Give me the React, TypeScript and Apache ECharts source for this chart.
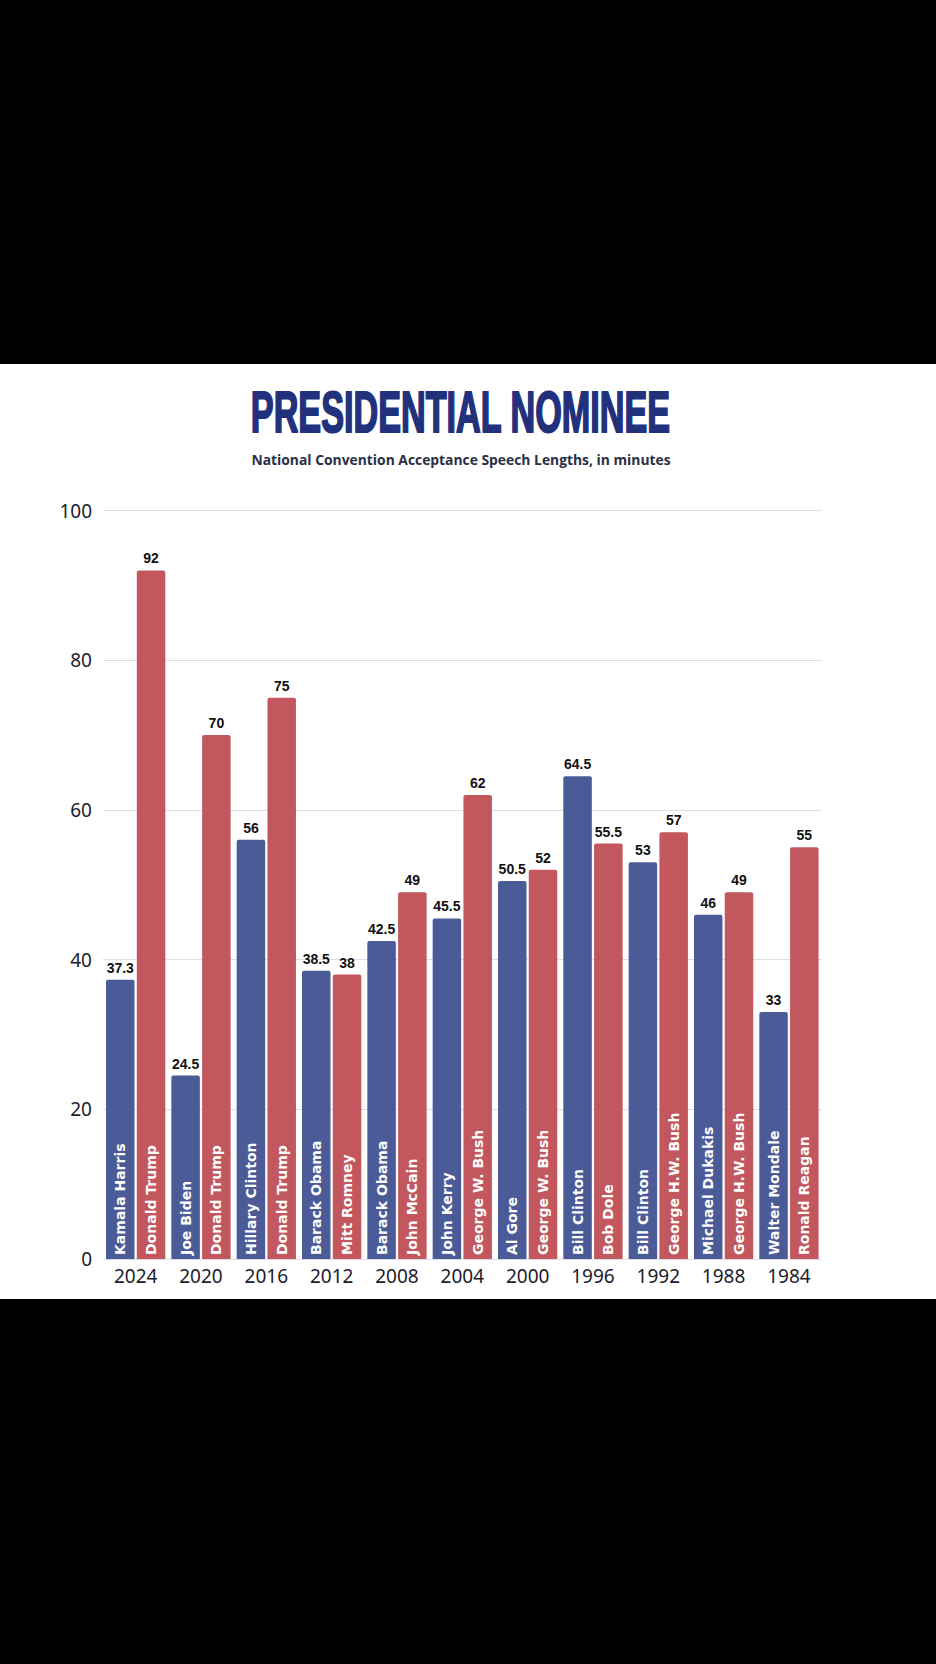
import React, { useEffect, useRef } from "react";
import * as echarts from "echarts";

const years = ["2024", "2020", "2016", "2012", "2008", "2004", "2000", "1996", "1992", "1988", "1984"];
const demNames = [
  "Kamala Harris", "Joe Biden", "Hillary Clinton", "Barack Obama", "Barack Obama", "John Kerry",
  "Al Gore", "Bill Clinton", "Bill Clinton", "Michael Dukakis", "Walter Mondale",
];
const demValues = [37.3, 24.5, 56, 38.5, 42.5, 45.5, 50.5, 64.5, 53, 46, 33];
const repNames = [
  "Donald Trump", "Donald Trump", "Donald Trump", "Mitt Romney", "John McCain", "George W. Bush",
  "George W. Bush", "Bob Dole", "George H.W. Bush", "George H.W. Bush", "Ronald Reagan",
];
const repValues = [92, 70, 75, 38, 49, 62, 52, 55.5, 57, 49, 55];
const yTicks = [0, 20, 40, 60, 80, 100];

const BLUE = "#4b5b98";
const RED = "#c2575e";

export default function App() {
  const ref = useRef<HTMLDivElement>(null);
  useEffect(() => {
    document.body.style.margin = "0";
    const chart = echarts.init(ref.current!, null, { renderer: "svg" });
    const nameLabel = {
      show: true,
      position: "insideBottom",
      rotate: 90,
      align: "left",
      verticalAlign: "middle",
      distance: 4,
      color: "#ffffff",
      fontFamily: "DejaVu Sans",
      fontWeight: "bold",
      fontSize: 14,
    };
    const valueLabel = (vals: number[]) => ({
      show: true,
      position: "top",
      distance: 5,
      color: "#111111",
      fontFamily: "Liberation Sans",
      fontWeight: "bold",
      fontSize: 14,
      formatter: (p: any) => String(vals[p.dataIndex]),
    });
    const zeros = years.map(() => 0);
    chart.setOption({
      animation: false,
      backgroundColor: "#000000",
      graphic: [
        {
          type: "rect",
          z: -10,
          silent: true,
          shape: { x: 0, y: 364, width: 936, height: 935 },
          style: { fill: "#ffffff" },
        },
        {
          type: "text",
          x: 460.5,
          y: 412,
          scaleX: 0.6,
          style: {
            text: "PRESIDENTIAL NOMINEE",
            fontFamily: "Liberation Sans",
            fontWeight: "bold",
            fontSize: 57,
            fill: "#22317c",
            stroke: "#22317c",
            lineWidth: 2,
            align: "center",
            verticalAlign: "middle",
            textAlign: "center",
            textVerticalAlign: "middle",
          },
        },
        {
          type: "text",
          x: 461,
          y: 459,
          scaleX: 0.99,
          style: {
            text: "National Convention Acceptance Speech Lengths, in minutes",
            fontFamily: "Open Sans",
            fontWeight: "bold",
            fontSize: 14,
            fill: "#2a2f45",
            align: "center",
            verticalAlign: "middle",
            textAlign: "center",
            textVerticalAlign: "middle",
          },
        },
      ],
      grid: { left: 103, right: 114.4, top: 510.5, bottom: 405 },
      xAxis: {
        type: "category",
        data: years,
        axisLine: { show: false },
        axisTick: { show: false },
        axisLabel: {
          margin: 7,
          color: "#1c1c2c",
          fontFamily: "Noto Sans",
          fontSize: 19,
        },
      },
      yAxis: {
        type: "value",
        min: yTicks[0],
        max: yTicks[yTicks.length - 1],
        interval: 20,
        axisLine: { show: false },
        axisTick: { show: false },
        axisLabel: {
          margin: 11,
          color: "#1c1c2c",
          fontFamily: "Noto Sans",
          fontSize: 19,
        },
        splitLine: { lineStyle: { color: "#dcdde6", width: 1 } },
      },
      series: [
        {
          type: "bar",
          name: "Democratic",
          stack: "dem",
          data: demValues.map((v, i) => ({ value: v, name: demNames[i] })),
          barWidth: 28.5,
          barGap: "8%",
          itemStyle: { color: BLUE, borderRadius: [2, 2, 0, 0] },
          label: { ...nameLabel, formatter: (p: any) => demNames[p.dataIndex] },
        },
        {
          type: "bar",
          name: "DemocraticValue",
          stack: "dem",
          data: zeros,
          barWidth: 28.5,
          barGap: "8%",
          itemStyle: { color: BLUE },
          label: valueLabel(demValues),
        },
        {
          type: "bar",
          name: "Republican",
          stack: "rep",
          data: repValues.map((v, i) => ({ value: v, name: repNames[i] })),
          barWidth: 28.5,
          barGap: "8%",
          itemStyle: { color: RED, borderRadius: [2, 2, 0, 0] },
          label: { ...nameLabel, formatter: (p: any) => repNames[p.dataIndex] },
        },
        {
          type: "bar",
          name: "RepublicanValue",
          stack: "rep",
          data: zeros,
          barWidth: 28.5,
          barGap: "8%",
          itemStyle: { color: RED },
          label: valueLabel(repValues),
        },
      ],
    });
    return () => chart.dispose();
  }, []);
  return (
    <div
      ref={ref}
      style={{ position: "absolute", left: 0, top: 0, width: 936, height: 1664 }}
    />
  );
}
